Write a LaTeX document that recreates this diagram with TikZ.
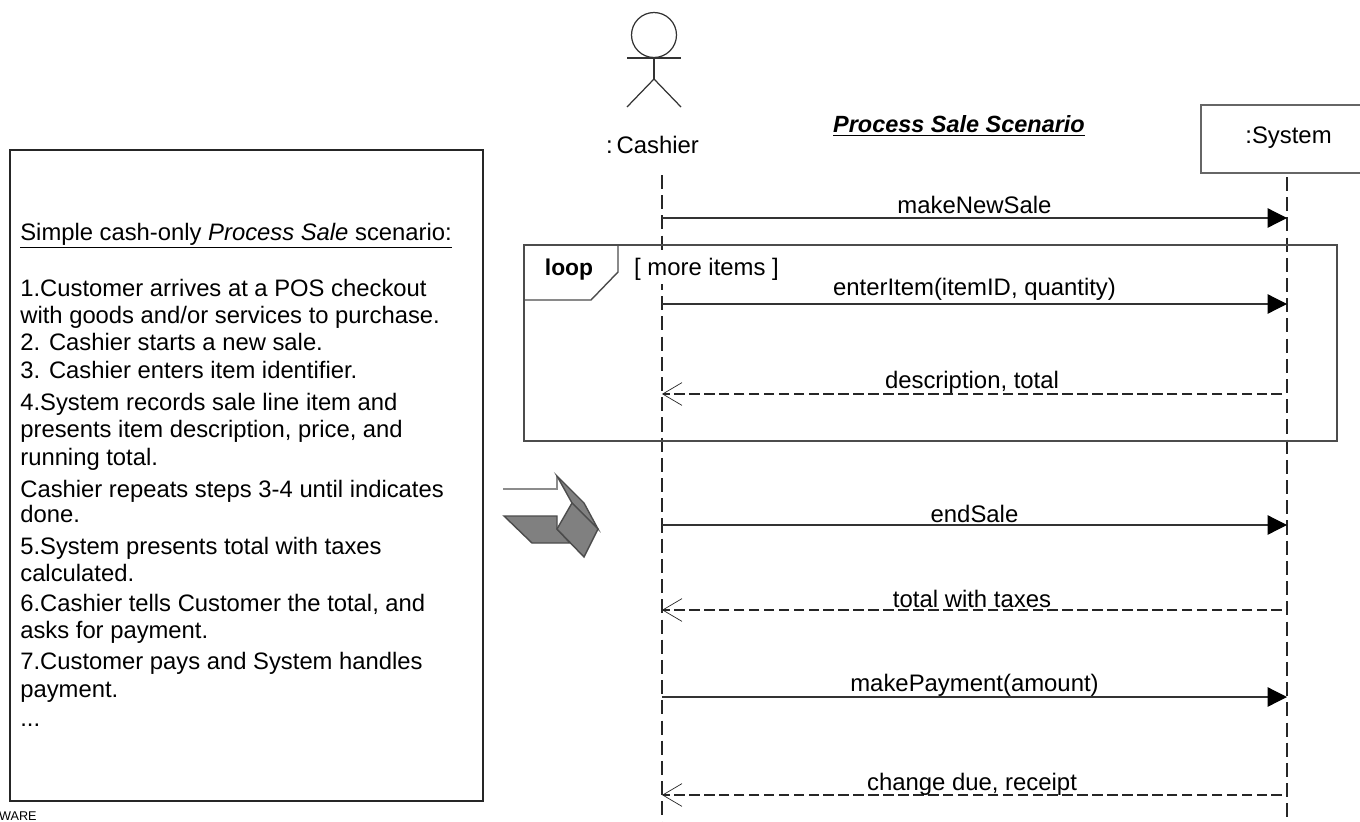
\documentclass[tikz,border=0pt]{standalone}
\usepackage{fontspec}
\setmainfont{Liberation Sans}
\usetikzlibrary{shapes, arrows, arrows.meta}
\tikzset{
    lifeline/.style={draw=black!85, line width=0.7pt, dash pattern=on 8pt off 3.5pt},
    call/.style={draw=black!80, line width=0.7pt, -{Triangle[length=11pt, width=11pt, black]}},
    reply/.style={draw=black!85, line width=0.7pt, dash pattern=on 6pt off 2.5pt, -{Straight Barb[length=11pt, width=13pt, line width=0.4pt]}},
    msgtext/.style={font=\fontsize{13.6}{15}\selectfont, inner sep=1pt},
    usecase/.style={font=\fontsize{13.55}{15}\selectfont, inner sep=0pt, anchor=base west},
    fold/.style={draw=black!70, line width=0.8pt, fill=black!50}
}
\begin{document}
\begin{tikzpicture}[x=0.02cm, y=-0.02cm]
            \useasboundingbox (0, 0) rectangle (1360, 822);

            \node[draw=black!85, line width=1.1pt, minimum width=9.46cm, minimum height=13.02cm, inner sep=0pt] (casebox) at (246.5, 475.5) {};
            \foreach \i/\y/\txt in {
                0/240/{\underline{Simple cash-only \textit{Process Sale} scenario:}},
                1/296/{1.Customer arrives at a POS checkout},
                2/323/{with goods and/or services to purchase.},
                3/350/{2. Cashier starts a new sale.},
                4/378/{3. Cashier enters item identifier.},
                5/410/{4.System records sale line item and},
                6/437/{presents item description, price, and},
                7/465/{running total.},
                8/497/{Cashier repeats steps 3-4 until indicates},
                9/522/{done.},
                10/554/{5.System presents total with taxes},
                11/581/{calculated.},
                12/611/{6.Cashier tells Customer the total, and},
                13/638/{asks for payment.},
                14/669/{7.Customer pays and System handles},
                15/697/{payment.},
                16/726/{...}}
            {
                \node[usecase] (case\i) at (20, \y) {\txt};
            }
            \node[font=\fontsize{7.2}{8}\selectfont, inner sep=0pt, anchor=east] (ware) at (37, 816) {WARE};

            \node[draw=black!80, circle, line width=0.7pt, minimum size=0.9cm, inner sep=0pt] (head) at (654, 35) {};
            \coordinate (hip) at (654, 79);
            \coordinate (armL) at (627, 58);
            \coordinate (armR) at (681, 58);
            \coordinate (footL) at (627, 107);
            \coordinate (footR) at (681, 107);
            \draw[draw=black!80, line width=0.7pt] (head.south) -- (hip);
            \draw[draw=black!80, line width=0.7pt] (armL) -- (armR);
            \draw[draw=black!80, line width=0.7pt] (footL) -- (hip) -- (footR);
            \node[msgtext] (cashier) at (652.5, 145) {:\,Cashier};

            \node[font=\fontsize{13.35}{15}\selectfont\bfseries\itshape, inner sep=0pt] (title) at (959, 126) {\underline{Process Sale Scenario}};

            \node[draw=black!60, line width=0.8pt, minimum width=4.2cm, minimum height=1.36cm, inner sep=0pt] (system) at (1306, 139) {};
            \node[msgtext] (systemtext) at (1288.5, 138) {:System};

            \coordinate (cashtop) at (662, 175);
            \coordinate (cashend) at (662, 826);
            \coordinate (systop) at (1287, 177);
            \coordinate (sysend) at (1287, 826);
            \draw[lifeline] (cashtop) -- (cashend);
            \draw[lifeline] (systop) -- (sysend);

            \node[draw=black!70, line width=0.8pt, minimum width=16.26cm, minimum height=3.92cm, inner sep=0pt] (loopbox) at (930.5, 343) {};
            \coordinate (tagA) at (618, 245);
            \coordinate (tagB) at (618, 272);
            \coordinate (tagC) at (591, 300);
            \coordinate (tagD) at (524, 300);
            \draw[draw=black!70, line width=0.8pt] (tagA) -- (tagB) -- (tagC) -- (tagD);
            \node[font=\fontsize{13}{15}\selectfont\bfseries, inner sep=0pt] (looptext) at (569, 270) {loop};
            \node[msgtext, fill=white, inner sep=1pt, minimum height=0.6cm] (guard) at (706.5, 269) {[ more items ]};

            \foreach \i/\y/\up/\txt in {
                1/218/1/makeNewSale,
                2/304/0.5/{enterItem(itemID, quantity)},
                3/525/0/endSale,
                4/697/-1/makePayment(amount)}
            {
                \coordinate (cash\i) at (662, \y);
                \coordinate (sys\i) at (1287, \y);
                \draw[call] (cash\i) -- node[midway, above, msgtext, yshift=\up pt] {\txt} (sys\i);
            }
            \foreach \i/\y/\up/\txt in {
                5/394/-1/{description, total},
                6/610/0/{total with taxes},
                7/795/-1.5/{change due, receipt}}
            {
                \coordinate (sys\i) at (1282, \y);
                \coordinate (cash\i) at (662, \y);
                \draw[reply] (sys\i) -- node[midway, above, msgtext, yshift=\up pt] {\txt} (cash\i);
            }

            \coordinate (tailA) at (503, 489);
            \coordinate (tailB) at (557, 489);
            \coordinate (tipA) at (557, 476);
            \coordinate (lowA) at (504, 516);
            \coordinate (lowB) at (557, 516);
            \coordinate (lowC) at (557, 529);
            \coordinate (lowD) at (570, 543);
            \coordinate (lowE) at (532, 543);
            \coordinate (faceA) at (572, 503);
            \coordinate (faceB) at (598, 529);
            \coordinate (faceC) at (584, 557);
            \coordinate (topB) at (584, 503);
            \draw[draw=black!45, line width=0.8pt] (tailA) -- (tailB) -- (tipA);
            \draw[fold] (lowA) -- (lowB) -- (lowC) -- (lowD) -- (lowE) -- cycle;
            \draw[fold] (tipA) -- (topB) -- (faceB) -- (faceA) -- cycle;
            \draw[fold] (faceA) -- (faceB) -- (faceC) -- (lowC) -- cycle;
    	\end{tikzpicture}
\end{document}
